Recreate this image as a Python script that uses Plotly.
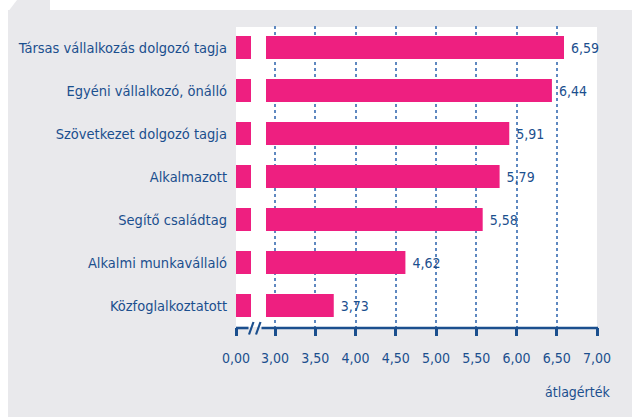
import plotly.graph_objects as go

categories = [
    "Társas vállalkozás dolgozó tagja",
    "Egyéni vállalkozó, önálló",
    "Szövetkezet dolgozó tagja",
    "Alkalmazott",
    "Segítő családtag",
    "Alkalmi munkavállaló",
    "Közfoglalkoztatott",
]
values = [6.59, 6.44, 5.91, 5.79, 5.58, 4.62, 3.73]
tick_vals_main = [3.0, 3.5, 4.0, 4.5, 5.0, 5.5, 6.0, 6.5, 7.0]
grid_vals = [3.0, 3.5, 4.0, 4.5, 5.0, 5.5, 6.0, 6.5]
axis_title = "átlagérték"

W, H = 632, 417
L, R, T, B = 236, 35, 26, 90
PW = W - L - R   # 361
PH = H - T - B   # 301

PINK = "#EE1F80"
BLUE = "#1B4F8E"
GRID = "#5E88C0"
GREY = "#E9E9EC"
FONT = "Liberation Sans Narrow, DejaVu Sans Condensed, Roboto, sans-serif"


def px(x):
    return (x - L) / PW


def py(y):
    return (H - B - y) / PH


fig = go.Figure()
# low segment (0 .. break)
fig.add_trace(go.Bar(
    x=values, y=categories, orientation="h", xaxis="x", yaxis="y",
    marker=dict(color=PINK, line=dict(width=0)), width=0.54,
    hoverinfo="skip", showlegend=False,
))
# main segment
fig.add_trace(go.Bar(
    x=values, y=categories, orientation="h", xaxis="x2", yaxis="y",
    marker=dict(color=PINK, line=dict(width=0)), width=0.54,
    text=values, texttemplate=" %{x:.2f}", textposition="outside",
    cliponaxis=False,
    textfont=dict(family=FONT, size=14, color=BLUE),
    showlegend=False,
))

low_end = 251
main_start = 266
x3_px, x7_px = 275, 597
unit = (x7_px - x3_px) / 4.0

shapes = [
    # grey panel
    dict(type="rect", xref="paper", yref="paper", x0=px(8), x1=px(W + 5),
         y0=py(H + 5), y1=py(10), fillcolor=GREY, line=dict(width=0), layer="below"),
    # tab at top-left
    dict(type="path", xref="paper", yref="paper",
         path=f"M {px(9)} {py(10.5)} L {px(17)} {py(0)} L {px(50)} {py(0)} L {px(50)} {py(10.5)} Z",
         fillcolor=GREY, line=dict(width=0), layer="below"),
    # white plot region
    dict(type="rect", xref="paper", yref="paper", x0=px(236), x1=px(597),
         y0=py(327), y1=py(27), fillcolor="white", line=dict(width=0), layer="below"),
    # axis line segments
    dict(type="line", xref="paper", yref="paper", x0=px(236), x1=px(248.5),
         y0=py(328), y1=py(328), line=dict(color=BLUE, width=2.6)),
    dict(type="line", xref="paper", yref="paper", x0=px(261.5), x1=px(598),
         y0=py(328), y1=py(328), line=dict(color=BLUE, width=2.6)),
    # break marks
    dict(type="line", xref="paper", yref="paper", x0=px(249), x1=px(253.5),
         y0=py(334.5), y1=py(322), line=dict(color=BLUE, width=2.2)),
    dict(type="line", xref="paper", yref="paper", x0=px(256), x1=px(260.5),
         y0=py(334.5), y1=py(322), line=dict(color=BLUE, width=2.2)),
]

tickfont = dict(family=FONT, size=14, color=BLUE)

fig.update_layout(
    width=W, height=H,
    margin=dict(l=L, r=R, t=T, b=B),
    paper_bgcolor="white",
    plot_bgcolor="rgba(0,0,0,0)",
    separators=",.",
    bargap=0.46,
    shapes=shapes,
    xaxis=dict(
        domain=[0, px(low_end)], range=[0, (low_end - L) / unit],
        tickvals=[0], tickformat=".2f", ticks="outside", ticklen=8,
        tickwidth=2.6, tickcolor=BLUE, showgrid=False, zeroline=False,
        showline=False, tickfont=tickfont, ticklabelstandoff=10,
        fixedrange=True,
    ),
    xaxis2=dict(
        domain=[px(main_start), 1], range=[3 - (x3_px - main_start) / unit, 7.0],
        tickvals=tick_vals_main, tickformat=".2f", ticks="outside", ticklen=8,
        tickwidth=2.6, tickcolor=BLUE, showgrid=False,
        minor=dict(tickmode="array", tickvals=grid_vals, ticks="",
                   showgrid=True, gridcolor=GRID, griddash="dot", gridwidth=1.5),
        zeroline=False, showline=False,
        tickfont=tickfont, anchor="y", ticklabelstandoff=10, fixedrange=True,
    ),
    yaxis=dict(
        type="category", autorange="reversed", ticks="", showgrid=False,
        zeroline=False, showline=False,
        tickfont=dict(family=FONT, size=14.5, color=BLUE),
        ticklabelstandoff=8, fixedrange=True,
    ),
    annotations=[dict(
        text=axis_title, xref="paper", yref="paper", x=px(612), y=py(392),
        xanchor="right", yanchor="middle", showarrow=False,
        font=dict(family=FONT, size=14, color=BLUE),
    )],
)

fig.write_html(
    "out.html",
    config={"displayModeBar": False},
    post_script="document.body.style.margin='0';document.body.style.overflow='hidden';",
)
